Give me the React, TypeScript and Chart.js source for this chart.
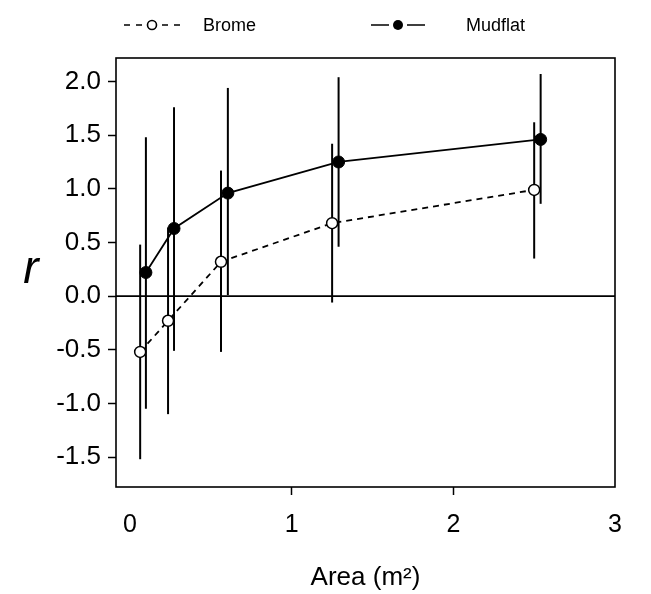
import React, { useEffect, useRef } from "react";
import { Chart, registerables } from "chart.js";
Chart.register(...registerables);

const xTicks = [0, 1, 2, 3];
const yTicks = [-1.5, -1, -0.5, 0, 0.5, 1, 1.5, 2];

const bromeArea = [0.0625, 0.235, 0.5625, 1.25, 2.5];
const bromeR = [-0.52, -0.23, 0.32, 0.68, 0.99];
const bromeLo = [-1.52, -1.1, -0.52, -0.06, 0.35];
const bromeHi = [0.48, 0.64, 1.17, 1.42, 1.62];

const mudArea = [0.098, 0.272, 0.605, 1.29, 2.54];
const mudR = [0.22, 0.63, 0.96, 1.25, 1.46];
const mudLo = [-1.05, -0.51, 0.01, 0.46, 0.86];
const mudHi = [1.48, 1.76, 1.94, 2.04, 2.07];

const FONT = "'Liberation Sans', Arial, Helvetica, sans-serif";

export default function App() {
  const ref = useRef<HTMLCanvasElement>(null);
  useEffect(() => {
    if (!ref.current) return;
    const overlay = {
      id: "overlay",
      beforeDatasetsDraw(chart: any) {
        const { ctx, scales, chartArea: a } = chart;
        const x = scales.x, y = scales.y;
        ctx.save();
        ctx.strokeStyle = "#000";
        ctx.lineWidth = 1.6;
        const y0 = y.getPixelForValue(0);
        ctx.beginPath();
        ctx.moveTo(a.left, y0);
        ctx.lineTo(a.right, y0);
        ctx.stroke();
        ctx.lineWidth = 2;
        const bars = (xs: number[], lo: number[], hi: number[]) => {
          xs.forEach((xv, i) => {
            const px = x.getPixelForValue(xv);
            ctx.beginPath();
            ctx.moveTo(px, y.getPixelForValue(lo[i]));
            ctx.lineTo(px, y.getPixelForValue(hi[i]));
            ctx.stroke();
          });
        };
        bars(bromeArea, bromeLo, bromeHi);
        bars(mudArea, mudLo, mudHi);
        ctx.restore();
      },
      afterDraw(chart: any) {
        const { ctx, chartArea: a } = chart;
        ctx.save();
        ctx.strokeStyle = "#000";
        ctx.lineWidth = 1.6;
        ctx.strokeRect(a.left, a.top, a.right - a.left, a.bottom - a.top);

        // legend
        const ly = 25;
        ctx.lineWidth = 1.6;
        ctx.beginPath();
        [[124, 130], [136, 142], [162, 168], [174, 180]].forEach(([s, e]) => {
          ctx.moveTo(s, ly);
          ctx.lineTo(e, ly);
        });
        ctx.stroke();
        ctx.beginPath();
        ctx.arc(152, ly, 4.5, 0, Math.PI * 2);
        ctx.fillStyle = "#fff";
        ctx.fill();
        ctx.stroke();
        ctx.beginPath();
        ctx.moveTo(371, ly); ctx.lineTo(389, ly);
        ctx.moveTo(407, ly); ctx.lineTo(425, ly);
        ctx.stroke();
        ctx.beginPath();
        ctx.arc(398, ly, 5, 0, Math.PI * 2);
        ctx.fillStyle = "#000";
        ctx.fill();
        ctx.fillStyle = "#000";
        ctx.font = `18px ${FONT}`;
        ctx.textAlign = "left";
        ctx.textBaseline = "middle";
        ctx.fillText("Brome", 203, ly + 1);
        ctx.fillText("Mudflat", 466, ly + 1);

        // axis titles
        ctx.textAlign = "center";
        ctx.font = `26px ${FONT}`;
        ctx.fillText("Area (m²)", (a.left + a.right) / 2, 578);
        ctx.font = `italic 46px ${FONT}`;
        ctx.fillText("r", 31, 270);
        ctx.restore();
      },
    };

    const chart = new Chart(ref.current, {
      type: "scatter",
      data: {
        datasets: [
          {
            label: "Brome",
            data: bromeArea.map((v, i) => ({ x: v, y: bromeR[i] })),
            showLine: true,
            borderColor: "#000",
            borderWidth: 1.8,
            borderDash: [6, 5],
            pointRadius: 5.5,
            pointBackgroundColor: "#fff",
            pointBorderColor: "#000",
            pointBorderWidth: 1.5,
          },
          {
            label: "Mudflat",
            data: mudArea.map((v, i) => ({ x: v, y: mudR[i] })),
            showLine: true,
            borderColor: "#000",
            borderWidth: 1.8,
            pointRadius: 6,
            pointBackgroundColor: "#000",
            pointBorderColor: "#000",
            pointBorderWidth: 1,
          },
        ],
      },
      options: {
        responsive: false,
        animation: false,
        layout: { padding: { top: 58, right: 36, left: 0, bottom: 0 } },
        plugins: { legend: { display: false }, tooltip: { enabled: false } },
        scales: {
          x: {
            type: "linear",
            min: -0.087,
            max: 3,
            afterBuildTicks: (s: any) => {
              s.ticks = xTicks.map((v) => ({ value: v }));
            },
            afterFit: (s: any) => {
              s.height = 107;
            },
            border: { display: false },
            grid: {
              drawOnChartArea: false,
              drawTicks: true,
              tickLength: 8,
              tickWidth: 1.5,
              tickColor: (c: any) =>
                c.tick && (c.tick.value === 1 || c.tick.value === 2) ? "#000" : "rgba(0,0,0,0)",
            },
            ticks: {
              color: "#000",
              font: { family: FONT, size: 25 },
              padding: 15,
              maxRotation: 0,
              autoSkip: false,
              callback: (v: any) => String(v),
            },
          },
          y: {
            type: "linear",
            min: -1.779,
            max: 2.219,
            afterBuildTicks: (s: any) => {
              s.ticks = yTicks.map((v) => ({ value: v }));
            },
            afterFit: (s: any) => {
              s.width = 116;
            },
            border: { display: false },
            grid: {
              drawOnChartArea: false,
              drawTicks: true,
              tickLength: 8,
              tickWidth: 1.5,
              tickColor: "#000",
            },
            ticks: {
              color: "#000",
              font: { family: FONT, size: 26 },
              padding: 7,
              autoSkip: false,
              callback: (v: any) => Number(v).toFixed(1),
            },
          },
        },
      },
      plugins: [overlay],
    });
    return () => chart.destroy();
  }, []);
  return (
    <div style={{ position: "absolute", left: 0, top: 0, width: 651, height: 594, background: "#fff" }}>
      <canvas ref={ref} width={651} height={594} style={{ width: 651, height: 594 }} />
    </div>
  );
}
